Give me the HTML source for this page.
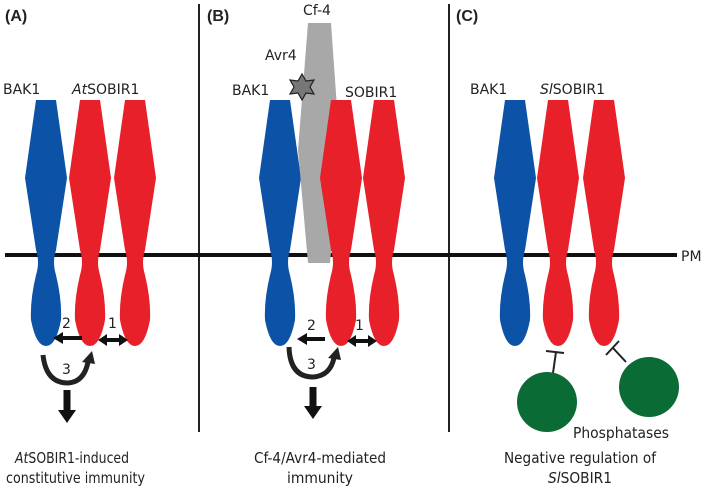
<!DOCTYPE html>
<html><head><meta charset="utf-8"><style>
html,body{margin:0;padding:0;background:#fff;}
svg{display:block;}
text{font-family:"DejaVu Sans","Liberation Sans",sans-serif;font-size:14px;fill:#222;}
.t{font-family:"DejaVu Sans","Liberation Sans",sans-serif;font-size:15px;}
.b{font-weight:bold;font-family:"Liberation Sans",sans-serif;font-size:16px;}
</style></head><body>
<svg width="709" height="487" viewBox="0 0 709 487" xmlns="http://www.w3.org/2000/svg">
<defs>
<path id="p" d="M-10,100 L10,100 L21,178 L10,250 Q6,262 10,275 Q16,300 15,320 Q10,346 0,346 Q-10,346 -15,320 Q-16,300 -10,275 Q-6,262 -10,250 L-21,178 Z"/>
</defs>
<line x1="199" y1="4" x2="199" y2="432" stroke="#222" stroke-width="2"/>
<line x1="449" y1="4" x2="449" y2="432" stroke="#222" stroke-width="2"/>
<line x1="5" y1="255" x2="677" y2="255" stroke="#111" stroke-width="4"/>
<text x="681" y="261">PM</text>
<text class="b" x="5" y="21">(A)</text>
<text class="b" x="207" y="21">(B)</text>
<text class="b" x="456" y="21">(C)</text>
<!-- Panel A -->
<text x="3" y="94">BAK1</text>
<text x="72" y="94"><tspan font-style="italic">At</tspan>SOBIR1</text>
<use href="#p" x="46" fill="#0c52a6"/>
<use href="#p" x="90" fill="#e8202a"/>
<use href="#p" x="135" fill="#e8202a"/>
<line x1="82" y1="338" x2="62" y2="338" stroke="#111" stroke-width="4"/>
<path d="M53,338 L63,332 L63,344 Z" fill="#111"/>
<line x1="106" y1="340" x2="120" y2="340" stroke="#111" stroke-width="4"/>
<path d="M98,340 L107,334 L107,346 Z M128,340 L119,334 L119,346 Z" fill="#111"/>
<path d="M43,355 Q46,383 68,383 Q84,382 88,362" fill="none" stroke="#222" stroke-width="5"/>
<path d="M92,351 L95,364 L82,362 Z" fill="#222"/>
<line x1="67" y1="390" x2="67" y2="412" stroke="#111" stroke-width="7"/>
<path d="M58,410 L76,410 L67,423 Z" fill="#111"/>
<text x="62" y="328">2</text>
<text x="108" y="328">1</text>
<text x="62" y="374">3</text>
<text class="t" x="15" y="463" textLength="114" lengthAdjust="spacingAndGlyphs"><tspan font-style="italic">At</tspan>SOBIR1-induced</text>
<text class="t" x="6" y="483" textLength="139" lengthAdjust="spacingAndGlyphs">constitutive immunity</text>
<!-- Panel B -->
<text x="303" y="15">Cf-4</text>
<text x="265" y="60">Avr4</text>
<text x="232" y="95">BAK1</text>
<text x="345" y="97">SOBIR1</text>
<use href="#p" x="280" fill="#0c52a6"/>
<polygon points="308,23 331,23 340,150 330,263 308,263 298,150" fill="#a8a8a8"/>
<use href="#p" x="341" fill="#e8202a"/>
<use href="#p" x="384" fill="#e8202a"/>
<polygon points="302,74 306,81 314,80 310,87 314,94 306,93 302,100 298,93 290,94 294,87 290,80 298,81" fill="#777" stroke="#222" stroke-width="1.2"/>
<line x1="325" y1="339" x2="306" y2="339" stroke="#111" stroke-width="4"/>
<path d="M297,339 L307,333 L307,345 Z" fill="#111"/>
<line x1="355" y1="341" x2="369" y2="341" stroke="#111" stroke-width="4"/>
<path d="M347,341 L356,335 L356,347 Z M377,341 L368,335 L368,347 Z" fill="#111"/>
<path d="M289,347 Q290,377 313,377 Q330,376 334,358" fill="none" stroke="#222" stroke-width="5"/>
<path d="M338,347 L341,360 L328,358 Z" fill="#222"/>
<line x1="313" y1="387" x2="313" y2="408" stroke="#111" stroke-width="7"/>
<path d="M304,406 L322,406 L313,419 Z" fill="#111"/>
<text x="307" y="330">2</text>
<text x="355" y="330">1</text>
<text x="307" y="369">3</text>
<text class="t" x="254" y="463" textLength="132" lengthAdjust="spacingAndGlyphs">Cf-4/Avr4-mediated</text>
<text class="t" x="287" y="483" textLength="66" lengthAdjust="spacingAndGlyphs">immunity</text>
<!-- Panel C -->
<text x="470" y="94">BAK1</text>
<text x="540" y="94"><tspan font-style="italic">Sl</tspan>SOBIR1</text>
<use href="#p" x="515" fill="#0c52a6"/>
<use href="#p" x="558" fill="#e8202a"/>
<use href="#p" x="604" fill="#e8202a"/>
<line x1="553" y1="373" x2="556" y2="352" stroke="#222" stroke-width="2"/>
<line x1="546" y1="351" x2="564" y2="353" stroke="#222" stroke-width="2"/>
<line x1="626" y1="362" x2="613" y2="348" stroke="#222" stroke-width="2"/>
<line x1="606" y1="355" x2="619" y2="341" stroke="#222" stroke-width="2"/>
<circle cx="547" cy="402" r="30" fill="#0b6b35"/>
<circle cx="649" cy="387" r="30" fill="#0b6b35"/>
<text class="t" x="573" y="438" textLength="96" lengthAdjust="spacingAndGlyphs">Phosphatases</text>
<text class="t" x="504" y="463" textLength="152" lengthAdjust="spacingAndGlyphs">Negative regulation of</text>
<text class="t" x="548" y="483" textLength="64" lengthAdjust="spacingAndGlyphs"><tspan font-style="italic">Sl</tspan>SOBIR1</text>
</svg>
</body></html>
